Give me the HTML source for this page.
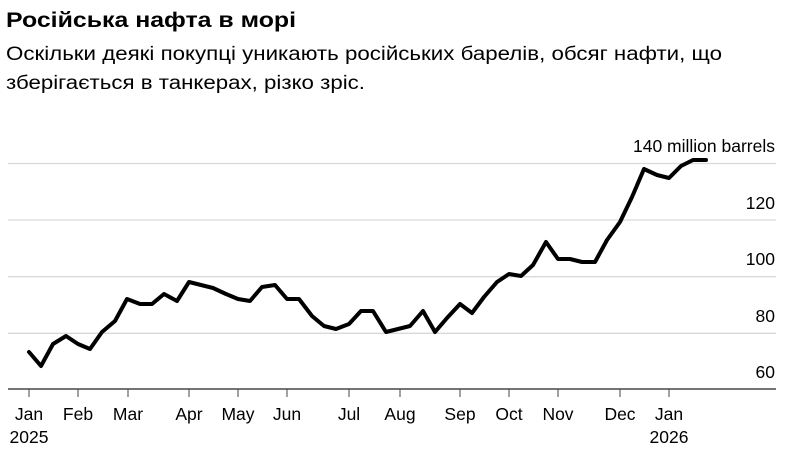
<!DOCTYPE html>
<html><head><meta charset="utf-8"><style>html,body{margin:0;padding:0;background:#fff}svg{display:block}</style></head>
<body>
<svg width="788" height="468" xmlns="http://www.w3.org/2000/svg" font-family="Liberation Sans, Arial, sans-serif">
<text x="6" y="27" font-size="21" font-weight="bold" fill="#000" textLength="290" lengthAdjust="spacingAndGlyphs">Російська нафта в морі</text>
<text x="6" y="60" font-size="19" fill="#000" textLength="716" lengthAdjust="spacingAndGlyphs">Оскільки деякі покупці уникають російських барелів, обсяг нафти, що</text>
<text x="6" y="89" font-size="19" fill="#000" textLength="359" lengthAdjust="spacingAndGlyphs">зберігається в танкерах, різко зріс.</text>
<g stroke="#d9d9d9" stroke-width="1.3">
<line x1="8" x2="776" y1="163.5" y2="163.5"/>
<line x1="8" x2="776" y1="220" y2="220"/>
<line x1="8" x2="776" y1="276.7" y2="276.7"/>
<line x1="8" x2="776" y1="333.3" y2="333.3"/>
</g>
<line x1="8" x2="776" y1="389" y2="389" stroke="#222" stroke-width="1.3"/>
<g stroke="#444" stroke-width="1">
<line x1="29" x2="29" y1="389" y2="397"/><line x1="78" x2="78" y1="389" y2="397"/><line x1="128" x2="128" y1="389" y2="397"/><line x1="189" x2="189" y1="389" y2="397"/><line x1="238" x2="238" y1="389" y2="397"/><line x1="287" x2="287" y1="389" y2="397"/><line x1="349" x2="349" y1="389" y2="397"/><line x1="400" x2="400" y1="389" y2="397"/><line x1="460" x2="460" y1="389" y2="397"/><line x1="509" x2="509" y1="389" y2="397"/><line x1="558" x2="558" y1="389" y2="397"/><line x1="620" x2="620" y1="389" y2="397"/><line x1="669" x2="669" y1="389" y2="397"/>
</g>
<g font-size="17.5" fill="#000" text-anchor="middle">
<text x="29" y="420">Jan</text><text x="78" y="420">Feb</text><text x="128" y="420">Mar</text><text x="189" y="420">Apr</text><text x="238" y="420">May</text><text x="287" y="420">Jun</text><text x="349" y="420">Jul</text><text x="400" y="420">Aug</text><text x="460" y="420">Sep</text><text x="509" y="420">Oct</text><text x="558" y="420">Nov</text><text x="620" y="420">Dec</text><text x="669" y="420">Jan</text>
<text x="29" y="443">2025</text><text x="669" y="443">2026</text>
</g>
<g font-size="17.5" fill="#000" text-anchor="end">
<text x="775" y="152">140 million barrels</text>
<text x="775" y="209">120</text>
<text x="775" y="265">100</text>
<text x="775" y="322">80</text>
<text x="775" y="378">60</text>
</g>
<polyline fill="none" stroke="#000" stroke-width="4" stroke-linejoin="round" stroke-linecap="round" points="29,352 41,366 53,344 66,336 78,344 90,349 102,332 115,321 127,299 140,304 152,304 164,294 177,301 189,282 201,285 213,288 226,294 238,299 250,301 262,287 275,285 287,299 299,299 312,316 324,326 336,329 349,324 361,311 373,311 386,332 398,329 410,326 423,311 435,332 447,318 460,304 472,313 484,297 497,282 509,274 521,276 533,265 546,242 558,259 570,259 582,262 595,262 607,240 620,222 632,197 644,169 657,175 669,178 681,166 693,160 706,160"/>
</svg>
</body></html>
